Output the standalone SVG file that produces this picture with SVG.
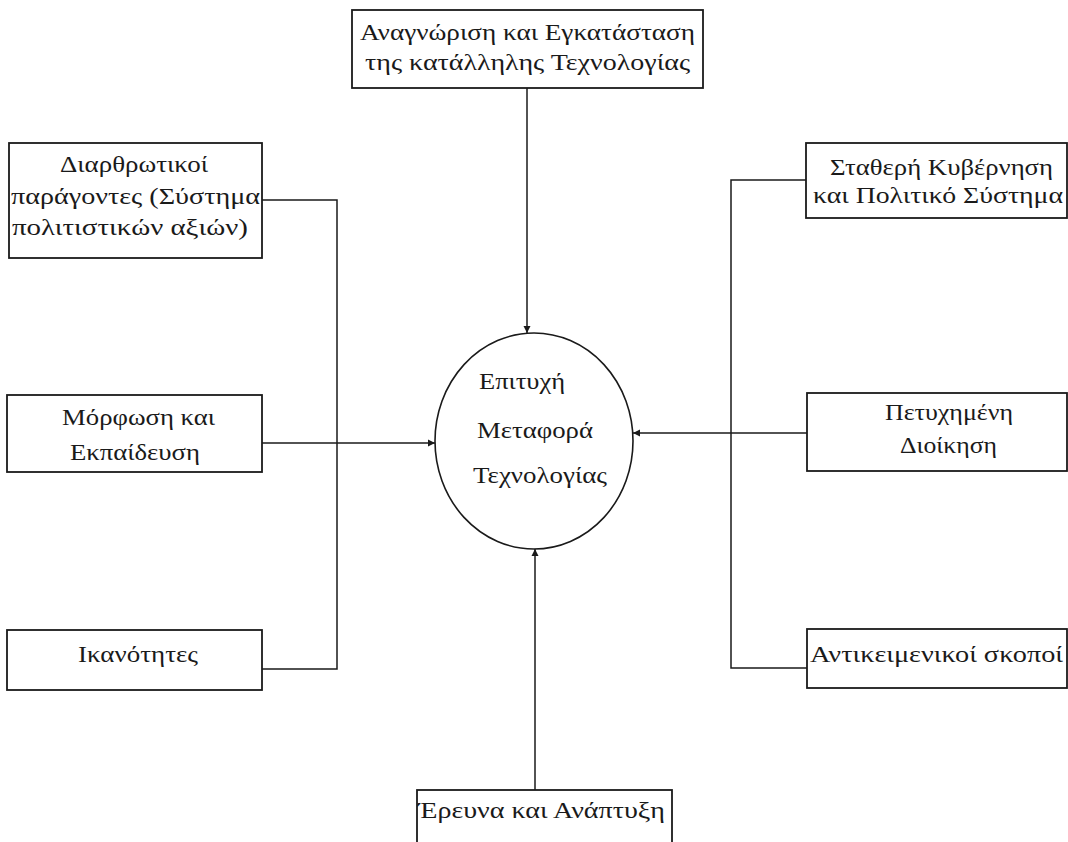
<svg xmlns="http://www.w3.org/2000/svg" width="1068" height="842" viewBox="0 0 1068 842">
<style>
.box{fill:#fff;stroke:#1a1a1a;stroke-width:1.8}
.t{font-family:"Liberation Serif","DejaVu Serif",serif;font-size:23px;fill:#1a1a1a}
.c{fill:none;stroke:#1a1a1a;stroke-width:1.5}
</style>
<defs>
<marker id="ar" markerUnits="userSpaceOnUse" markerWidth="9" markerHeight="8" refX="7" refY="4" orient="auto">
<path d="M0,0.5 L7,4 L0,7.5 Z" fill="#1a1a1a"/>
</marker>
</defs>
<rect width="1068" height="842" fill="#fff"/>
<g id="connectors">
<path class="c" d="M527,88 V333" marker-end="url(#ar)"/>
<path class="c" d="M262,200 H337 V669 H262"/>
<path class="c" d="M262,443 H435" marker-end="url(#ar)"/>
<path class="c" d="M807,180 H731 V668 H807"/>
<path class="c" d="M807,433 H633" marker-end="url(#ar)"/>
<path class="c" d="M535,790 V549" marker-end="url(#ar)"/>
</g>
<g id="center">
<ellipse cx="534" cy="441" rx="99" ry="108" fill="none" stroke="#1a1a1a" stroke-width="1.6"/>
<text class="t" x="479" y="389" textLength="86" lengthAdjust="spacingAndGlyphs">Επιτυχή</text>
<text class="t" x="477" y="438" textLength="116" lengthAdjust="spacingAndGlyphs">Μεταφορά</text>
<text class="t" x="473" y="483" textLength="134" lengthAdjust="spacingAndGlyphs">Τεχνολογίας</text>
</g>
<g id="n-top">
<rect class="box" x="352" y="10" width="351" height="78"/>
<text class="t" x="360" y="40" textLength="335" lengthAdjust="spacingAndGlyphs">Αναγνώριση και Εγκατάσταση</text>
<text class="t" x="365" y="70" textLength="325" lengthAdjust="spacingAndGlyphs">της κατάλληλης Τεχνολογίας</text>
</g>
<g id="n-diarth">
<rect class="box" x="9" y="143" width="253" height="115"/>
<text class="t" x="60" y="172" textLength="148" lengthAdjust="spacingAndGlyphs">Διαρθρωτικοί</text>
<text class="t" x="11" y="204" textLength="249" lengthAdjust="spacingAndGlyphs">παράγοντες  (Σύστημα</text>
<text class="t" x="12" y="235" textLength="236" lengthAdjust="spacingAndGlyphs">πολιτιστικών αξιών)</text>
</g>
<g id="n-morf">
<rect class="box" x="7" y="395" width="255" height="77"/>
<text class="t" x="62" y="425" textLength="153" lengthAdjust="spacingAndGlyphs">Μόρφωση και</text>
<text class="t" x="70" y="460" textLength="130" lengthAdjust="spacingAndGlyphs">Εκπαίδευση</text>
</g>
<g id="n-ikan">
<rect class="box" x="7" y="630" width="255" height="60"/>
<text class="t" x="78" y="662" textLength="120" lengthAdjust="spacingAndGlyphs">Ικανότητες</text>
</g>
<g id="n-stath">
<rect class="box" x="806" y="143" width="261" height="75"/>
<text class="t" x="830" y="175" textLength="223" lengthAdjust="spacingAndGlyphs">Σταθερή Κυβέρνηση</text>
<text class="t" x="813" y="203" textLength="250" lengthAdjust="spacingAndGlyphs">και Πολιτικό Σύστημα</text>
</g>
<g id="n-petyx">
<rect class="box" x="807" y="393" width="260" height="78"/>
<text class="t" x="885" y="420" textLength="128" lengthAdjust="spacingAndGlyphs">Πετυχημένη</text>
<text class="t" x="900" y="453" textLength="97" lengthAdjust="spacingAndGlyphs">Διοίκηση</text>
</g>
<g id="n-antik">
<rect class="box" x="807" y="629" width="260" height="59"/>
<text class="t" x="810" y="662" textLength="253" lengthAdjust="spacingAndGlyphs">Αντικειμενικοί σκοποί</text>
</g>
<g id="n-erevna">
<rect class="box" x="417" y="790" width="255" height="70"/>
<text class="t" x="418" y="818" textLength="247" lengthAdjust="spacingAndGlyphs">Έρευνα και Ανάπτυξη</text>
</g>
</svg>
